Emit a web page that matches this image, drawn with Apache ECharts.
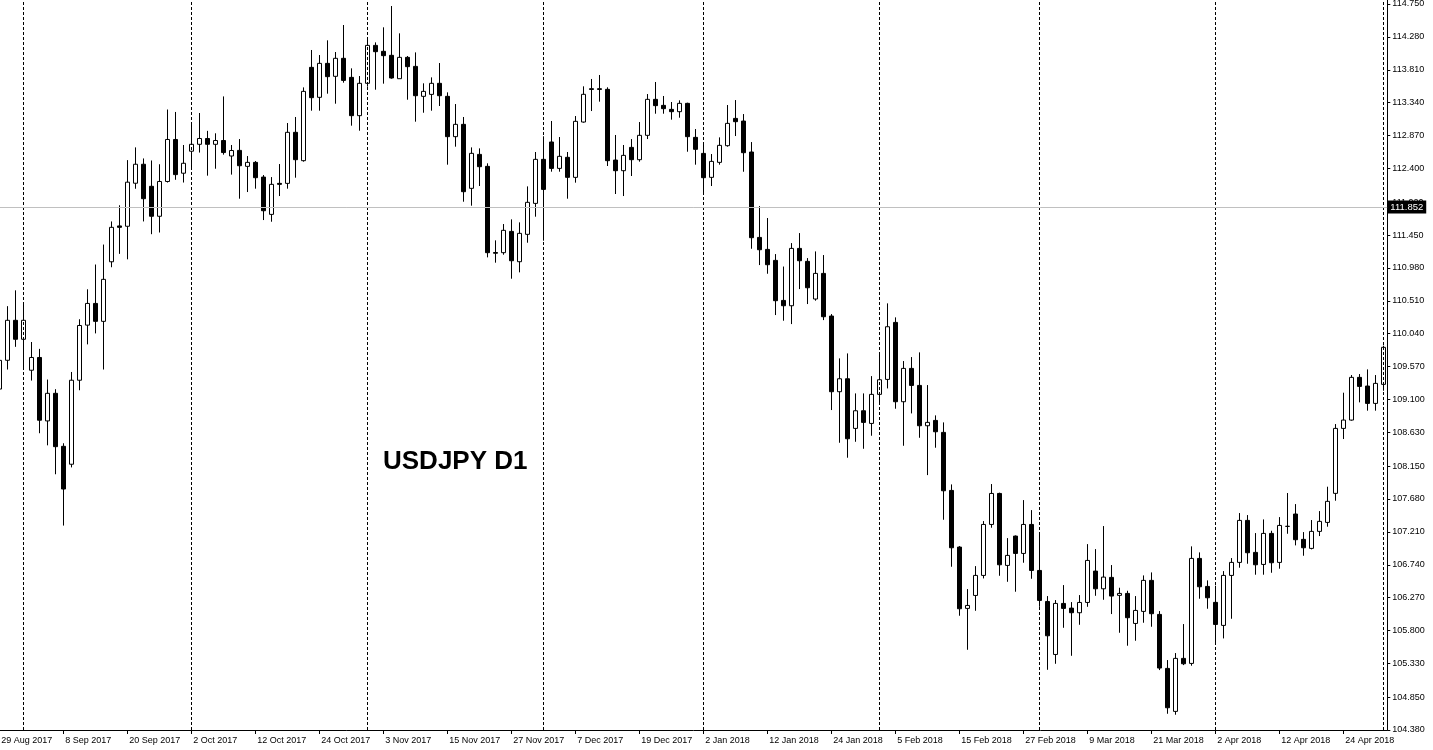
<!DOCTYPE html>
<html>
<head>
<meta charset="utf-8">
<script src="https://cdn.jsdelivr.net/npm/echarts@6/dist/echarts.min.js"></script>
<style>
html,body{margin:0;padding:0;background:#fff;}
#chart{width:1433px;height:750px;}
</style>
</head>
<body>
<div id="chart"></div>
<script>
// Trading days shown (weekdays, 25 Dec and 1 Jan absent)
const monthDays = [
  ['Aug 2017', [29,30,31]],
  ['Sep 2017', [1,4,5,6,7,8,11,12,13,14,15,18,19,20,21,22,25,26,27,28,29]],
  ['Oct 2017', [2,3,4,5,6,9,10,11,12,13,16,17,18,19,20,23,24,25,26,27,30,31]],
  ['Nov 2017', [1,2,3,6,7,8,9,10,13,14,15,16,17,20,21,22,23,24,27,28,29,30]],
  ['Dec 2017', [1,4,5,6,7,8,11,12,13,14,15,18,19,20,21,22,26,27,28,29]],
  ['Jan 2018', [2,3,4,5,8,9,10,11,12,15,16,17,18,19,22,23,24,25,26,29,30,31]],
  ['Feb 2018', [1,2,5,6,7,8,9,12,13,14,15,16,19,20,21,22,23,26,27,28]],
  ['Mar 2018', [1,2,5,6,7,8,9,12,13,14,15,16,19,20,21,22,23,26,27,28,29,30]],
  ['Apr 2018', [2,3,4,5,6,9,10,11,12,13,16,17,18,19,20,23,24,25,26,27,30]],
  ['May 2018', [1]]
];

const opens = [
109.25,109.661,110.232,109.961,109.519,109.701,108.795,109.189,108.432,108.176,
109.376,110.163,110.473,110.217,111.068,111.58,111.575,112.19,112.461,112.146,
111.718,112.215,112.815,112.333,112.647,112.746,112.829,112.746,112.80,112.579,
112.659,112.431,112.488,112.278,111.745,112.188,112.188,112.917,112.512,113.845,
113.417,113.902,113.717,113.974,113.702,113.155,113.617,114.159,114.074,114.017,
113.683,113.988,113.859,113.431,113.459,113.617,113.431,112.855,113.031,112.117,
112.602,112.431,111.20,111.198,111.502,111.069,111.46,111.902,112.531,112.779,
112.402,112.56,112.274,113.064,113.54,113.54,113.531,112.521,112.369,112.702,
112.526,112.874,113.388,113.302,113.245,113.212,113.331,112.845,112.616,112.274,
112.488,112.726,113.116,113.078,112.636,111.416,111.245,111.088,110.516,110.44,
111.259,111.074,110.536,110.902,110.293,109.212,109.397,108.688,108.94,108.759,
109.174,109.388,110.202,109.069,109.545,109.302,108.726,108.802,108.631,107.802,
106.993,106.117,106.302,106.588,107.316,107.759,106.731,107.15,106.902,107.316,
106.659,106.216,105.459,106.188,106.121,106.055,106.202,106.65,106.397,106.56,
106.303,106.331,105.902,106.074,106.517,106.031,105.26,104.646,105.403,105.331,
106.831,106.431,106.203,105.874,106.588,106.774,107.374,106.917,106.745,107.188,
106.774,107.288,107.465,107.103,106.974,107.217,107.345,107.76,108.688,108.807,
109.417,109.293,109.045,109.317
];
const closes = [
109.66,110.232,109.961,110.232,109.701,108.805,109.189,108.427,107.822,109.376,
110.158,110.473,110.217,110.817,111.56,111.56,112.205,112.461,111.969,111.718,
112.215,112.815,112.313,112.475,112.746,112.829,112.746,112.80,112.628,112.657,
112.44,112.488,112.269,111.797,112.174,112.174,112.917,112.526,113.502,113.412,
113.902,113.712,113.974,113.659,113.155,113.617,114.159,114.069,114.012,113.693,
113.988,113.855,113.44,113.502,113.617,113.44,112.855,113.031,112.069,112.617,
112.426,111.198,111.19,111.517,111.083,111.474,111.917,112.531,112.102,112.402,
112.574,112.274,113.074,113.46,113.53,113.53,112.512,112.369,112.588,112.526,
112.874,113.388,113.298,113.255,113.212,113.331,112.855,112.674,112.269,112.502,
112.731,113.045,113.069,112.626,111.412,111.24,111.026,110.512,110.44,111.259,
111.083,110.697,110.902,110.283,109.212,109.397,108.54,108.94,108.774,109.174,
109.383,110.14,109.069,109.545,109.302,108.726,108.774,108.64,107.797,106.983,
106.112,106.159,106.588,107.316,107.759,106.74,106.874,106.902,107.316,106.659,
106.231,105.726,106.188,106.117,106.055,106.202,106.802,106.397,106.564,106.293,
106.331,105.984,106.088,106.517,106.041,105.265,104.698,105.403,105.326,106.831,
106.426,106.269,105.888,106.588,106.774,107.374,106.912,106.74,107.188,106.769,
107.302,107.29,107.098,106.983,107.217,107.36,107.646,108.688,108.807,109.417,
109.288,109.045,109.331,109.846
];
const lows = [
108.26,109.529,109.853,109.543,109.371,108.619,108.446,108.033,107.30,108.131,
109.233,109.888,110.045,109.529,110.99,111.181,111.103,112.111,111.644,111.462,
111.486,112.20,112.239,112.20,112.397,112.628,112.298,112.397,112.598,112.313,
111.969,112.064,112.112,111.664,111.64,112.007,112.112,112.269,112.498,113.226,
113.226,113.469,113.326,113.626,113.012,112.94,113.569,113.526,113.612,113.683,
113.683,113.383,113.069,113.197,113.226,113.293,112.455,112.712,111.926,111.869,
112.15,111.131,111.055,111.169,110.826,110.917,111.34,111.712,111.369,112.355,
112.355,111.969,112.198,113.055,113.221,113.355,112.436,112.036,112.007,112.293,
112.498,112.821,113.183,113.183,113.098,113.126,112.64,112.455,112.045,112.15,
112.455,112.712,112.864,112.354,111.254,111.021,110.897,110.307,110.226,110.178,
110.678,110.464,110.512,110.235,108.95,108.483,108.269,108.497,108.397,108.583,
109.045,109.259,108.969,108.44,108.902,108.554,108.021,108.412,107.383,106.712,
106.012,105.526,106.083,106.545,107.269,106.583,106.497,106.355,106.769,106.54,
106.14,105.24,105.326,105.84,105.44,105.883,106.14,106.297,106.24,106.036,
105.769,105.584,105.655,105.912,105.855,105.236,104.612,104.598,105.307,105.298,
106.255,106.112,105.626,105.688,105.969,106.698,106.755,106.598,106.598,106.626,
106.684,107.183,107.017,106.869,106.96,107.15,107.284,107.655,108.536,108.798,
109.06,108.941,108.941,109.226
];
const highs = [
109.80,110.434,110.66,110.478,109.922,109.824,109.386,109.248,108.476,109.494,
110.247,110.675,111.029,111.314,111.644,111.875,112.52,112.702,112.544,112.515,
112.461,113.243,113.208,112.736,113.046,113.193,112.938,112.903,113.43,112.736,
112.821,112.578,112.507,112.307,112.278,112.464,113.05,113.136,113.559,114.093,
114.021,114.231,114.064,114.45,113.831,113.721,114.259,114.202,114.417,114.721,
114.331,114.007,114.059,113.617,113.702,113.907,113.488,113.321,113.136,112.702,
112.688,112.474,111.374,111.607,111.674,111.631,112.145,112.636,112.86,113.079,
112.85,112.636,113.15,113.574,113.679,113.736,113.56,112.879,112.736,112.821,
113.064,113.464,113.636,113.436,113.35,113.374,113.34,112.964,112.774,112.607,
112.845,113.307,113.378,113.178,112.778,111.864,111.693,111.178,111.0,111.335,
111.478,111.121,111.216,111.164,110.321,109.688,109.759,109.188,109.188,109.435,
109.774,110.474,110.274,109.65,109.707,109.774,109.307,108.874,108.774,107.888,
107.007,106.393,106.721,107.364,107.893,107.77,107.121,107.159,107.664,107.521,
107.202,106.293,106.236,106.45,106.207,106.307,107.035,106.964,107.293,106.736,
106.412,106.369,106.293,106.588,106.631,106.079,105.379,105.479,105.893,107.003,
106.917,106.517,106.441,106.65,106.836,107.479,107.45,107.193,107.388,107.226,
107.421,107.765,107.607,107.207,107.379,107.507,107.855,108.75,109.198,109.45,
109.464,109.531,109.45,109.87
];

const priceTicks = [104.380,104.850,105.330,105.800,106.270,106.740,107.210,107.680,108.150,108.630,
  109.100,109.570,110.040,110.510,110.980,111.450,111.920,112.400,112.870,113.340,113.810,114.280,114.750];
const hLinePrice = 111.852;
const titleText = 'USDJPY D1';

// build category list and month-start list
const dates = [];
const monthStarts = [];
monthDays.forEach(function (m, mi) {
  m[1].forEach(function (d, di) {
    const label = d + ' ' + m[0];
    dates.push(label);
    if (di === 0 && mi > 0) monthStarts.push(label);
  });
});
const ohlc = dates.map(function (_, i) { return [opens[i], closes[i], lows[i], highs[i]]; });

const chart = echarts.init(document.getElementById('chart'), null, {renderer: 'canvas'});
const fontFam = '"Liberation Sans", Arial, sans-serif';
chart.setOption({
  animation: false,
  backgroundColor: '#ffffff',
  grid: {left: -4.7, right: 45.7, top: 0, bottom: 20, containLabel: false, outerBoundsMode: 'none'},
  xAxis: {
    type: 'category',
    data: dates,
    boundaryGap: true,
    axisLine: {show: true, lineStyle: {color: '#000', width: 1}},
    axisTick: {show: true, alignWithLabel: true, interval: 7, length: 4, lineStyle: {color: '#000'}},
    axisLabel: {interval: 7, align: 'left', margin: 6, padding: [0, 0, 0, 2], fontSize: 9, color: '#000', fontFamily: fontFam, hideOverlap: false},
    splitLine: {show: false}
  },
  yAxis: {
    type: 'value',
    position: 'right',
    min: 104.38,
    max: 114.80714,
    scale: true,
    axisLine: {show: true, lineStyle: {color: '#000', width: 1}},
    axisTick: {show: true, length: 3, customValues: priceTicks, lineStyle: {color: '#000'}},
    axisLabel: {customValues: priceTicks, margin: 5, fontSize: 9, color: '#000', fontFamily: fontFam,
      formatter: function (v) { return v.toFixed(3); }},
    splitLine: {show: false}
  },
  graphic: [{
    type: 'text',
    left: 383,
    top: 449,
    style: {text: titleText, font: 'bold 26px "Liberation Sans", Arial, sans-serif', fill: '#000'}
  }],
  series: [{
    type: 'candlestick',
    data: ohlc,
    barWidth: 4,
    itemStyle: {
      color: '#ffffff', color0: '#000000',
      borderColor: '#000000', borderColor0: '#000000', borderColorDoji: '#000000',
      borderWidth: 1
    },
    markLine: {
      silent: true,
      symbol: ['none', 'none'],
      animation: false,
      data: monthStarts.map(function (d) {
        return {xAxis: d, lineStyle: {color: '#000', width: 1, type: [3, 2]}, label: {show: false}};
      }).concat([{
        yAxis: hLinePrice,
        lineStyle: {color: '#c0c0c0', width: 1, type: 'solid'},
        label: {show: true, position: 'end', distance: 0, formatter: hLinePrice.toFixed(3),
          backgroundColor: '#000', color: '#fff', fontSize: 9.5, fontFamily: fontFam, padding: [2, 3, 1, 3]}
      }])
    }
  }]
});
</script>
</body>
</html>
